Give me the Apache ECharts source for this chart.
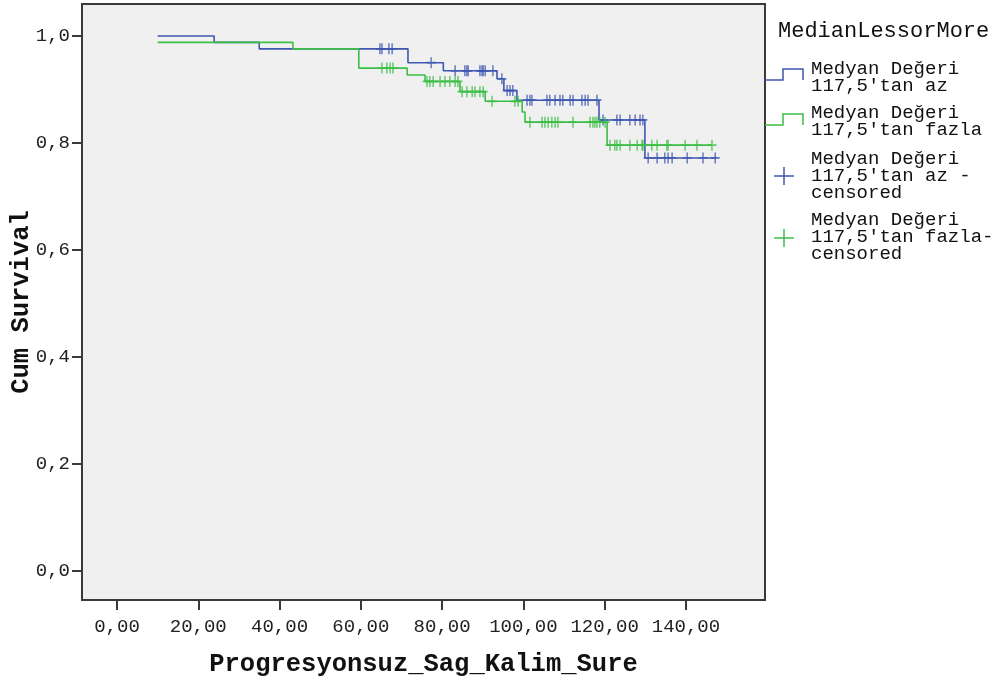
<!DOCTYPE html>
<html>
<head>
<meta charset="utf-8">
<script src="https://cdn.jsdelivr.net/npm/echarts@6/dist/echarts.min.js"></script>
<style>
html,body{margin:0;padding:0;background:#fff;}
#chart{width:1007px;height:684px;}
</style>
</head>
<body>
<div id="chart"></div>
<script>
// Kaplan-Meier step curves (time, cumulative survival)
const blueTimes = [10, 23.9, 35, 71.6, 80.3, 93.5, 95.2, 98.4, 118.6, 129.9, 147.5];
const blueSurv  = [1.0, 0.988, 0.976, 0.950, 0.935, 0.920, 0.898, 0.880, 0.843, 0.772, 0.772];
const greenTimes = [10, 43.3, 59.5, 71.4, 75.8, 84.4, 90.6, 99.7, 100.4, 120.6, 146.4];
const greenSurv  = [0.988, 0.976, 0.940, 0.927, 0.915, 0.896, 0.878, 0.858, 0.839, 0.796, 0.796];

// Censored observations
const blueCensTimes = [64.7, 65.2, 66.9, 67.7, 77.3, 83.2, 85.6, 86.1, 86.4, 89.3, 89.8, 90.1, 90.6, 92.5, 94.7, 96.0, 96.7, 97.4,
  100.9, 101.6, 102.1, 105.8, 106.5, 107.8, 109.0, 109.7, 111.5, 112.2, 114.4, 115.2, 115.9, 118.1,
  119.6, 123.0, 123.8, 126.2, 127.5, 128.7, 129.4, 130.7, 132.9, 134.8, 135.6, 136.6, 140.3, 144.2, 147.2];
const blueCensSurv = [0.976, 0.976, 0.976, 0.976, 0.950, 0.935, 0.935, 0.935, 0.935, 0.935, 0.935, 0.935, 0.935, 0.935, 0.920, 0.898, 0.898, 0.898,
  0.880, 0.880, 0.880, 0.880, 0.880, 0.880, 0.880, 0.880, 0.880, 0.880, 0.880, 0.880, 0.880, 0.880,
  0.843, 0.843, 0.843, 0.843, 0.843, 0.843, 0.843, 0.772, 0.772, 0.772, 0.772, 0.772, 0.772, 0.772, 0.772];
const greenCensTimes = [65.2, 66.4, 67.2, 67.9, 76.3, 77.0, 77.8, 79.5, 80.7, 81.9, 83.2, 83.9, 84.9, 86.1, 87.4, 88.1, 89.3, 90.1,
  92.3, 97.9, 98.7, 101.6, 104.6, 105.3, 106.1, 107.0, 107.8, 108.5, 112.2, 116.4, 117.1, 117.6, 118.1, 118.8, 120.1,
  121.3, 122.5, 123.0, 123.8, 126.2, 128.0, 129.2, 129.4, 131.6, 132.9, 135.3, 135.6, 139.8, 142.7, 146.4];
const greenCensSurv = [0.940, 0.940, 0.940, 0.940, 0.915, 0.915, 0.915, 0.915, 0.915, 0.915, 0.915, 0.915, 0.896, 0.896, 0.896, 0.896, 0.896, 0.896,
  0.878, 0.878, 0.878, 0.839, 0.839, 0.839, 0.839, 0.839, 0.839, 0.839, 0.839, 0.839, 0.839, 0.839, 0.839, 0.839, 0.839,
  0.796, 0.796, 0.796, 0.796, 0.796, 0.796, 0.796, 0.796, 0.796, 0.796, 0.796, 0.796, 0.796, 0.796, 0.796];

const xTicks = [0, 20, 40, 60, 80, 100, 120, 140];
const yTicks = [0, 0.2, 0.4, 0.6, 0.8, 1.0];

const legendTitle = 'MedianLessorMore';
const legendNames = ["Medyan Değeri\n117,5'tan az", "Medyan Değeri\n117,5'tan fazla",
  "Medyan Değeri\n117,5'tan az -\ncensored", "Medyan Değeri\n117,5'tan fazla-\ncensored"];

const BLUE = '#3E57B0';
const GREEN = '#3DBE46';
const MONO = '"Liberation Mono", "DejaVu Sans Mono", monospace';
const plus = 'path://M0,4.2H4.2V0H5.8V4.2H10V5.8H5.8V10H4.2V5.8H0Z';

const zip = (a, b) => a.map((v, i) => [v, b[i]]);

const chart = echarts.init(document.getElementById('chart'), null, {renderer: 'canvas'});

function plusIcon(cx, cy, color) {
  return [
    {type: 'line', shape: {x1: cx - 10, y1: cy, x2: cx + 10, y2: cy}, style: {stroke: color, lineWidth: 1.5}},
    {type: 'line', shape: {x1: cx, y1: cy - 9, x2: cx, y2: cy + 9}, style: {stroke: color, lineWidth: 1.5}}
  ];
}
function stepIcon(y, color) {
  return {type: 'polyline', shape: {points: [[765, y], [783, y], [783, y - 11], [803, y - 11], [803, y]]},
    style: {stroke: color, lineWidth: 1.5, fill: null}};
}
function legText(x, y, t) {
  return {type: 'text', x: x, y: y, style: {text: t, font: '19px ' + MONO, fill: '#111', lineHeight: 16.7, textVerticalAlign: 'top'}};
}

const option = {
  backgroundColor: '#ffffff',
  animation: false,
  grid: {left: 82, top: 4, width: 683, height: 596, show: true, backgroundColor: '#F0F0F0', borderColor: '#3a3a3a', borderWidth: 2,
    containLabel: false, outerBoundsMode: 'none'},
  xAxis: {
    type: 'value', min: -8.61, max: 159.45,
    name: 'Progresyonsuz_Sag_Kalim_Sure', nameLocation: 'middle', nameGap: 52, nameMoveOverlap: false,
    nameTextStyle: {fontFamily: MONO, fontWeight: 'bold', fontSize: 25.5, color: '#111'},
    axisLine: {show: false, onZero: false},
    splitLine: {show: false},
    axisTick: {show: true, length: 10, customValues: xTicks, lineStyle: {color: '#3a3a3a', width: 2}},
    axisLabel: {customValues: xTicks, margin: 17, fontFamily: MONO, fontSize: 19, color: '#222',
      formatter: v => v.toFixed(2).replace('.', ',')}
  },
  yAxis: {
    type: 'value', min: -0.0542, max: 1.0598,
    name: 'Cum Survival', nameLocation: 'middle', nameGap: 47, nameRotate: 90, nameMoveOverlap: false,
    nameTextStyle: {fontFamily: MONO, fontWeight: 'bold', fontSize: 25.5, color: '#111'},
    axisLine: {show: false, onZero: false},
    splitLine: {show: false},
    axisTick: {show: true, length: 10, customValues: yTicks, lineStyle: {color: '#3a3a3a', width: 2}},
    axisLabel: {customValues: yTicks, margin: 12, fontFamily: MONO, fontSize: 19, color: '#222',
      formatter: v => v.toFixed(1).replace('.', ',')}
  },
  series: [
    {type: 'line', name: legendNames[0], step: 'end', data: zip(blueTimes, blueSurv), showSymbol: false,
      lineStyle: {color: BLUE, width: 1.6}, z: 2},
    {type: 'line', name: legendNames[1], step: 'end', data: zip(greenTimes, greenSurv), showSymbol: false,
      lineStyle: {color: GREEN, width: 1.6}, z: 3},
    {type: 'scatter', name: legendNames[2], data: zip(blueCensTimes, blueCensSurv), symbol: plus, symbolSize: [9, 11],
      itemStyle: {color: BLUE}, z: 4},
    {type: 'scatter', name: legendNames[3], data: zip(greenCensTimes, greenCensSurv), symbol: plus, symbolSize: [9, 11],
      itemStyle: {color: GREEN}, z: 5}
  ],
  graphic: [
    {type: 'text', x: 778, y: 20, style: {text: legendTitle, font: '22px ' + MONO, fill: '#111', textVerticalAlign: 'top'}},
    stepIcon(80, BLUE),
    legText(811, 61, legendNames[0]),
    stepIcon(125, GREEN),
    legText(811, 105, legendNames[1]),
    ...plusIcon(784, 176, BLUE),
    legText(811, 151, legendNames[2]),
    ...plusIcon(784, 238, GREEN),
    legText(811, 212, legendNames[3])
  ]
};
chart.setOption(option);
</script>
</body>
</html>
